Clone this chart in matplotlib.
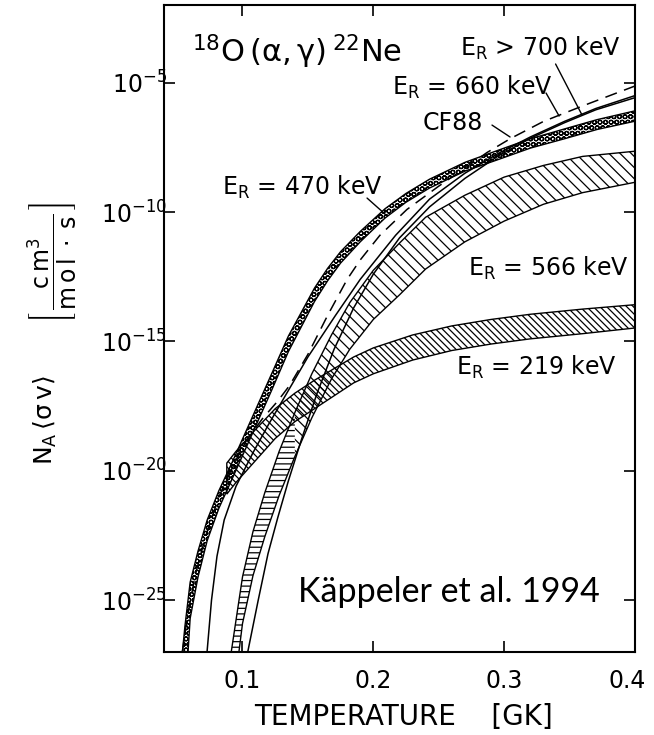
import numpy as np
import matplotlib
matplotlib.use("Agg")
import matplotlib.pyplot as plt
from matplotlib.transforms import ScaledTranslation

# ------------- data -------------------------------------
# temperature in GK, rates given as log10( N_A <sigma v> )

# E_R = 470 keV band (upper / lower edge)
t470_hi = [0.0535, 0.056, 0.060, 0.066, 0.073, 0.082, 0.092, 0.107, 0.122, 0.135, 0.155, 0.165,
           0.175, 0.19, 0.209, 0.225, 0.243, 0.27, 0.295, 0.32, 0.346, 0.371, 0.40]
r470_hi = [-27.3, -26.0, -24.3, -23.1, -21.9, -20.76, -19.68, -17.98, -16.28, -14.8, -12.94, -12.18,
           -11.53, -10.75, -9.87, -9.28, -8.73, -8.08, -7.62, -7.17, -6.79, -6.43, -6.09]
t470_lo = [0.058, 0.060, 0.066, 0.073, 0.082, 0.092, 0.107, 0.122, 0.135, 0.155, 0.165,
           0.175, 0.19, 0.209, 0.225, 0.243, 0.27, 0.295, 0.32, 0.346, 0.371, 0.40]
r470_lo = [-27.3, -25.7, -24.1, -22.7, -21.44, -20.32, -18.62, -16.92, -15.4, -13.46, -12.66,
           -11.97, -11.15, -10.23, -9.62, -9.07, -8.42, -7.98, -7.53, -7.17, -6.81, -6.49]

# E_R = 566 keV band
t566_hi = [0.0905, 0.100, 0.108, 0.117, 0.128, 0.140, 0.153, 0.168, 0.182, 0.20,
           0.22, 0.24, 0.27, 0.30, 0.33, 0.36, 0.40]
r566_hi = [-27.3, -24.1, -22.35, -20.85, -19.25, -17.75, -16.25, -14.75, -13.5, -12.25,
           -11.2, -10.2, -9.35, -8.65, -8.2, -7.85, -7.65]
t566_lo = [0.0965, 0.100, 0.108, 0.117, 0.128, 0.140, 0.153, 0.168, 0.182, 0.20,
           0.22, 0.24, 0.27, 0.30, 0.33, 0.36, 0.40]
r566_lo = [-27.3, -25.9, -24.05, -22.55, -20.95, -19.45, -17.95, -16.45, -15.3, -14.15,
           -13.2, -12.2, -11.15, -10.35, -9.7, -9.25, -8.85]

# E_R = 219 keV band
t219 = [0.088, 0.095, 0.11, 0.125, 0.14, 0.155, 0.17, 0.185, 0.2, 0.23, 0.26, 0.29, 0.32, 0.36, 0.40]
r219_hi = [-19.7, -19.25, -18.4, -17.6, -17.0, -16.5, -16.05, -15.6, -15.25, -14.75,
           -14.4, -14.15, -13.95, -13.75, -13.58]
r219_lo = [-20.9, -20.45, -19.6, -18.75, -18.1, -17.6, -17.1, -16.6, -16.25, -15.72,
           -15.35, -15.1, -14.9, -14.7, -14.48]

# E_R = 660 keV (solid)
t660 = [0.0729, 0.0763, 0.0805, 0.086, 0.095, 0.108, 0.12, 0.135, 0.15, 0.171, 0.19,
        0.217, 0.243, 0.27, 0.295, 0.32, 0.346, 0.37, 0.40]
r660 = [-27.0, -25.0, -23.3, -21.9, -20.6, -19.3, -18.2, -16.9, -15.6, -14.0, -12.6,
        -10.9, -9.5, -8.5, -7.75, -7.1, -6.5, -6.0, -5.5]

# E_R > 700 keV (solid)
t700 = [0.104, 0.112, 0.1195, 0.127, 0.135, 0.145, 0.157, 0.17, 0.185, 0.2, 0.22,
        0.243, 0.27, 0.295, 0.32, 0.346, 0.37, 0.40]
r700 = [-27.0, -25.0, -23.2, -21.8, -20.4, -18.8, -17.0, -15.3, -13.7, -12.4, -11.0,
        -9.8, -8.7, -7.85, -7.15, -6.55, -6.05, -5.58]

# CF88 (dashed)
tcf = [0.054, 0.058, 0.064, 0.072, 0.082, 0.092, 0.102, 0.115, 0.127, 0.136, 0.15, 0.165,
       0.18, 0.19, 0.205, 0.2257, 0.25, 0.27, 0.2869, 0.3052, 0.33, 0.36, 0.40]
rcf = [-27.0, -25.6, -24.0, -22.5, -21.0, -19.9, -18.9, -18.0, -17.3, -16.7, -15.5, -14.0,
       -12.6, -11.85, -10.9, -9.9, -9.0, -8.3, -7.7, -7.15, -6.5, -5.9, -5.13]

xticks = [0.1, 0.2, 0.3, 0.4]
xticklabels = ["0.1", "0.2", "0.3", "0.4"]
yticks = [1e-25, 1e-20, 1e-15, 1e-10, 1e-5]
yticklabels = [r"$10^{-25}$", r"$10^{-20}$", r"$10^{-15}$", r"$10^{-10}$", r"$10^{-5}$"]
# --------------------------------------------------------

plt.rcParams["hatch.linewidth"] = 0.9
plt.rcParams["mathtext.default"] = "regular"

fig = plt.figure(figsize=(6.54, 7.35), dpi=100)
ax = fig.add_axes([164 / 654, 83 / 735, 471 / 654, 647 / 735])


def poly(t_hi, r_hi, t_lo, r_lo):
    x = np.concatenate([t_hi, t_lo[::-1]])
    y = 10.0 ** np.concatenate([r_hi, r_lo[::-1]])
    return x, y


def band(t_hi, r_hi, t_lo, r_lo, hatch, cut=None):
    t_hi, r_hi, t_lo, r_lo = map(np.asarray, (t_hi, r_hi, t_lo, r_lo))
    # outline
    ax.fill(*poly(t_hi, r_hi, t_lo, r_lo), facecolor="none", edgecolor="black", lw=1.0)
    if cut is None:
        ax.fill(*poly(t_hi, r_hi, t_lo, r_lo), facecolor="none", edgecolor="black",
                lw=0, hatch=hatch)
    else:
        # steep part drawn with rungs, flatter part with diagonal hatch
        ih = int(np.argmin(np.abs(t_hi - cut)))
        il = int(np.argmin(np.abs(t_lo - cut)))
        ax.fill(*poly(t_hi[:ih + 1], r_hi[:ih + 1], t_lo[:il + 1], r_lo[:il + 1]),
                facecolor="none", edgecolor="black", lw=0, hatch=hatch[0])
        ax.fill(*poly(t_hi[ih:], r_hi[ih:], t_lo[il:], r_lo[il:]),
                facecolor="none", edgecolor="black", lw=0, hatch=hatch[1])


band(t470_hi, r470_hi, t470_lo, r470_lo, "OOO")
band(t566_hi, r566_hi, t566_lo, r566_lo, ("---", "\\\\\\"), cut=0.140)
band(t219, r219_hi, t219, r219_lo, "\\\\\\\\\\")

ax.plot(t660, 10.0 ** np.array(r660), color="black", lw=1.1)
ax.plot(t700, 10.0 ** np.array(r700), color="black", lw=1.1)
ax.plot(tcf, 10.0 ** np.array(rcf), color="black", lw=1.1, linestyle=(0, (8, 5)))

ax.set_yscale("log")
ax.set_xlim(0.04, 0.4)
ax.set_ylim(1e-27, 1e-2)
ax.set_xticks(xticks)
ax.set_xticklabels(xticklabels)
ax.set_yticks(yticks)
ax.set_yticklabels(yticklabels)
ax.yaxis.set_minor_locator(matplotlib.ticker.NullLocator())
ax.tick_params(direction="in", length=8, width=1.2, top=True, right=True,
               labelsize=17)
ax.tick_params(axis="x", pad=12)
ax.tick_params(axis="y", pad=-2)
for s in ax.spines.values():
    s.set_linewidth(1.5)

# last x label sits a bit left in the original
lab = ax.get_xticklabels()[-1]
lab.set_transform(lab.get_transform() + ScaledTranslation(-0.08, 0, fig.dpi_scale_trans))

# curve labels
kw = dict(transform=ax.transAxes, fontsize=17, va="baseline", ha="left")
ax.text(0.0594, 0.9119, r"$^{18}$O$\,(\alpha,\gamma)\,^{22}$Ne", transform=ax.transAxes,
        fontsize=22, va="baseline", ha="left")
ax.text(0.6278, 0.9218, r"E$_R$ > 700 keV", **kw)
ax.text(0.4847, 0.8609, r"E$_R$ = 660 keV", **kw)
ax.text(0.549, 0.8068, "CF88", **kw)
ax.text(0.1238, 0.7063, r"E$_R$ = 470 keV", **kw)
ax.text(0.6454, 0.5811, r"E$_R$ = 566 keV", **kw)
ax.text(0.62, 0.4281, r"E$_R$ = 219 keV", **kw)

# leader lines
lead = dict(arrowstyle="-", color="black", lw=1.0, shrinkA=0, shrinkB=0)
ax.annotate("", xy=(0.3595, 10 ** -6.25), xytext=(0.3393, 10 ** -4.28), arrowprops=lead)
ax.annotate("", xy=(0.342, 10 ** -6.29), xytext=(0.332, 10 ** -5.40), arrowprops=lead)
ax.annotate("", xy=(0.3045, 10 ** -7.1), xytext=(0.2907, 10 ** -6.64), arrowprops=lead)
ax.annotate("", xy=(0.2090, 10 ** -10.08), xytext=(0.1952, 10 ** -9.46), arrowprops=lead)

ax.text(0.2839, 0.0773, "Käppeler et al. 1994", transform=ax.transAxes, fontsize=24.5,
        family="Lato", va="baseline", ha="left")

# axis labels
fig.text(403 / 654, 1 - 717 / 735, "TEMPERATURE    [GK]", fontsize=20, ha="center", va="center")
fig.text(45 / 654, 1 - 420 / 735, r"N$_A\,\langle\sigma\,v\rangle$", fontsize=18,
         rotation=90, ha="center", va="center")
fig.text(52 / 654, 1 - 262 / 735, r"$\left[\,\dfrac{c\,m^3}{m\,o\,l\;\cdot\;s}\,\right]$",
         fontsize=17, rotation=90, ha="center", va="center")

fig.savefig("out.png", dpi=100)
